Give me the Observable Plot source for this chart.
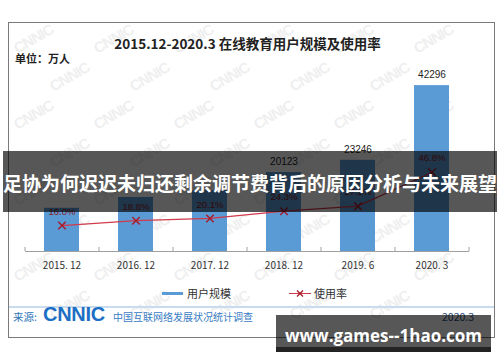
<!DOCTYPE html>
<html><head><meta charset="utf-8">
<script src="https://cdn.jsdelivr.net/npm/d3@7"></script>
<script src="https://cdn.jsdelivr.net/npm/@observablehq/plot@0.6"></script>
<style>
html,body{margin:0;padding:0;background:#fff;}
#wrap{position:relative;width:500px;height:362px;overflow:hidden;font-family:"Noto Sans CJK SC","Noto Sans",sans-serif;}
.abs{position:absolute;white-space:nowrap;}
#chart{position:absolute;left:0;top:0;}
.wm{position:absolute;color:#efefef;font:bold 15px "Liberation Sans",sans-serif;transform:rotate(-30deg);letter-spacing:-1px;}
</style></head><body><div id="wrap">
<div id="wms"></div>
<div class="abs" style="left:8px;top:22px;width:487px;height:316px;box-sizing:border-box;border:1px solid #7a7a7a;"></div>
<div class="abs" style="left:0;width:495px;top:35px;text-align:center;font-weight:bold;font-size:13.5px;line-height:17px;color:#222;">2015.12-2020.3 在线教育用户规模及使用率</div>
<div class="abs" style="left:15px;top:51px;font-weight:bold;font-size:11px;line-height:14px;color:#222;">单位：万人</div>
<div id="chart"></div>
<div class="abs" style="left:162px;top:292px;width:21px;height:3px;background:#5B9BD5;"></div>
<div class="abs" style="left:187px;top:286px;font-size:11px;line-height:15px;color:#333;">用户规模</div>
<svg class="abs" style="left:289px;top:288px;" width="22" height="11"><line x1="0" y1="5.5" x2="22" y2="5.5" stroke="#D03A4A" stroke-width="1"/><path d="M8 2.5 L14 8.5 M14 2.5 L8 8.5" stroke="#A51F2E" stroke-width="1.4"/></svg>
<div class="abs" style="left:314px;top:286px;font-size:11px;line-height:15px;color:#333;">使用率</div>
<div class="abs" style="left:9px;top:306px;width:485px;height:2px;background:#c9dcef;"></div>
<div class="abs" style="left:13px;top:310px;font-size:10.5px;line-height:14px;color:#2E75B6;">来源:</div>
<div class="abs" style="left:43px;top:303px;font:900 20px 'Liberation Sans',sans-serif;line-height:23px;color:#1C6FC4;letter-spacing:-0.3px;">CNNIC</div>
<div class="abs" style="left:113px;top:310px;font-size:10px;line-height:14px;color:#3A7CC4;">中国互联网络发展状况统计调查</div>
<div class="abs" style="left:442px;top:310px;font-size:10.5px;line-height:14px;color:#1F4E79;">2020.3</div>
<div class="abs" style="left:3px;top:151px;width:494px;height:61px;background:rgba(0,0,0,0.66);"></div>
<div class="abs" style="left:0;width:500px;top:170px;text-align:center;font-weight:bold;font-size:19px;line-height:26px;color:#fff;">足协为何迟迟未归还剩余调节费背后的原因分析与未来展望</div>
<div class="abs" style="left:276px;top:315px;width:215px;height:37px;background:rgba(0,0,0,0.66);box-shadow:inset 0 -5px 0 rgba(0,0,0,0.6);"></div>
<div class="abs" style="left:276px;width:215px;top:325px;text-align:center;font:bold 17px 'Open Sans',sans-serif;line-height:22px;color:#fff;">www.games--1hao.com</div>
</div>
<script>
const categories = ["2015.12", "2016.12", "2017.12", "2018.12", "2019.6", "2020.3"];
const tickLabels = ["2015. 12", "2016. 12", "2017. 12", "2018. 12", "2019. 6", "2020. 3"];
const users = [11014, 13764, 15518, 20123, 23246, 42296];
const rates = [16.0, 18.8, 20.1, 24.3, 27.2, 46.8];
// value labels legible in the picture (the first three are hidden by the banner)
const valueLabelShown = [false, false, false, true, true, true];

// background watermark pattern
const wms = document.getElementById("wms");
for (let r = 0; r < 8; r++) {
  for (let c = 0; c < 6; c++) {
    const d = document.createElement("div");
    d.className = "wm";
    d.textContent = "CNNIC";
    d.style.left = (12 + c * 80 + (r % 2) * 36) + "px";
    d.style.top = (30 + r * 38) + "px";
    if (12 + c * 80 + (r % 2) * 36 < 440) wms.appendChild(d);
  }
}

const Y_MAX = 48700;
// secondary (percentage) axis mapped onto the primary scale
const rateAxis = d3.scaleLinear().domain([1, 111.4]).range([0, Y_MAX]);
const data = categories.map((c, i) => ({
  cat: c, label: tickLabels[i], users: users[i], rate: rates[i], rateY: rateAxis(rates[i]), shown: valueLabelShown[i]
}));
const step = 74;

const chart = Plot.plot({
  width: 500, height: 362,
  marginLeft: 25, marginRight: 31, marginTop: 60, marginBottom: 111,
  style: {background: "transparent", fontFamily: "'Noto Sans CJK SC', sans-serif"},
  x: {type: "band", domain: categories, paddingInner: 0.527, paddingOuter: 0.2635, axis: null},
  y: {domain: [0, Y_MAX], axis: null},
  marks: [
    Plot.barY(data, {x: "cat", y: "users", fill: "#5B9BD5"}),
    Plot.ruleY([0], {stroke: "#a0a0a0", strokeWidth: 1}),
    Plot.ruleX(data, {x: "cat", y1: 0, y2: 0, insetBottom: 4, dx: -step / 2, stroke: "#a0a0a0"}),
    Plot.ruleX(data.slice(-1), {x: "cat", y1: 0, y2: 0, insetBottom: 4, dx: step / 2, stroke: "#a0a0a0"}),
    Plot.text(data, {x: "cat", y: 0, text: "label", dy: 14, fontSize: 10, fill: "#333"}),
    Plot.text(data.filter(d => d.shown), {x: "cat", y: "users", text: d => String(d.users), dy: -11, fontSize: 10, fill: "#222", fontFamily: "'Liberation Sans', sans-serif"}),
    Plot.line(data, {x: "cat", y: "rateY", stroke: "#D03A4A", strokeWidth: 1.3}),
    Plot.dot(data, {x: "cat", y: "rateY", symbol: "times", r: 3.5, stroke: "#A51F2E", strokeWidth: 1.5}),
    Plot.text(data, {x: "cat", y: "rateY", text: d => d.rate.toFixed(1) + "%", dy: -14, fontSize: 9.5, fill: "#8B1A24", fontFamily: "'Liberation Sans', sans-serif"})
  ]
});
document.getElementById("chart").appendChild(chart);
</script>
</body></html>
